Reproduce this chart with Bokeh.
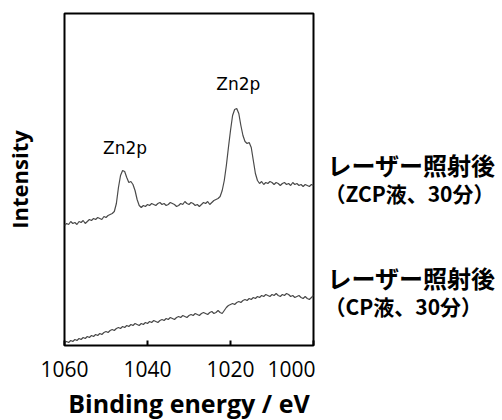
import numpy as np
from bokeh.plotting import figure
from bokeh.models import Range1d, FixedTicker, ColumnDataSource
from bokeh.layouts import row
from bokeh.core.properties import value
from bokeh.embed import file_html
from bokeh.resources import INLINE

# Binding energy grid (eV), 0.5 eV steps from 1060 down to 1000
energy = np.arange(1060.0, 999.9, -0.5)

# Upper trace: after laser irradiation (ZCP solution, 30 min)
zcp = [120, 122, 121, 124, 122, 123, 121, 124, 123, 125,
       122, 124, 126, 125, 127, 126, 128, 127, 126, 129,
       128, 130, 131, 132, 134, 142, 158, 170, 175, 174,
       168, 163, 164, 161, 155, 146, 140, 138, 140, 139,
       141, 140, 142, 141, 140, 142, 143, 141, 142, 140,
       141, 143, 142, 141, 139, 140, 142, 141, 144, 142,
       141, 143, 142, 140, 141, 139, 141, 143, 142, 144,
       141, 143, 145, 146, 147, 149, 155, 165, 180, 198,
       215, 230, 236, 237, 232, 220, 210, 204, 202, 203,
       198, 185, 172, 165, 162, 164, 161, 163, 162, 164,
       163, 161, 163, 162, 160, 162, 163, 161, 162, 160,
       163, 161, 162, 160, 161, 159, 161, 160, 159, 161,
       160]

# Lower trace: after laser irradiation (CP solution, 30 min)
cp = [3, 4, 3, 5, 4, 6, 5, 7, 6, 8,
      7, 9, 8, 10, 9, 11, 10, 12, 11, 13,
      14, 13, 15, 16, 15, 17, 18, 17, 19, 18,
      20, 19, 21, 20, 22, 21, 20, 22, 21, 23,
      22, 24, 23, 25, 24, 23, 25, 26, 25, 27,
      26, 28, 27, 26, 28, 29, 28, 30, 29, 28,
      30, 31, 30, 32, 31, 30, 32, 33, 32, 31,
      33, 34, 32, 33, 35, 33, 32, 35, 38, 40,
      41, 42, 41, 43, 44, 43, 45, 46, 45, 47,
      46, 48, 47, 49, 48, 50, 49, 51, 50, 49,
      51, 50, 52, 50, 49, 51, 50, 52, 51, 49,
      50, 48, 49, 50, 48, 47, 49, 47, 46, 48,
      50]

x_ticks = [1060, 1040, 1020, 1000]
peak_labels = ["Zn2p", "Zn2p"]
peak_pos_x = [1045.4, 1018.1]
peak_pos_y = [198, 262]
title_lines = ["レーザー照射後", "レーザー照射後"]
title_y = [181, 68]
sub_lines = ["（ZCP液、30分）", "（CP液、30分）"]
sub_y = [153, 40]

assert len(zcp) == len(energy) and len(cp) == len(energy)

H = 427
p = figure(width=315, height=H, output_backend="svg", toolbar_location=None,
           x_range=Range1d(1060, 1000), y_range=Range1d(0, 332),
           min_border_left=63, min_border_right=2, min_border_top=13,
           min_border_bottom=H - 13 - 332)
p.background_fill_color = "white"
p.border_fill_color = "white"
p.outline_line_color = "black"
p.outline_line_width = 2
p.xgrid.visible = False
p.ygrid.visible = False

line_color = "#4a4a4a"
p.line(energy, zcp, line_color=line_color, line_width=1.2)
p.line(energy, cp, line_color=line_color, line_width=1.2)

ax = p.xaxis[0]
ax.ticker = FixedTicker(ticks=x_ticks)
ax.axis_line_color = None
ax.major_tick_in = 5
ax.major_tick_out = 0
ax.major_tick_line_color = "black"
ax.major_tick_line_width = 2
ax.minor_tick_line_color = None
ax.major_label_text_font = "Open Sans"
ax.major_label_text_font_size = "21px"
ax.major_label_text_color = "black"
ax.major_label_standoff = 15
ax.axis_label = "Binding energy / eV"
ax.axis_label_text_font = "Open Sans"
ax.axis_label_text_font_size = "25px"
ax.axis_label_text_font_style = "bold"
ax.axis_label_text_color = "black"
ax.axis_label_standoff = 6

ay = p.yaxis[0]
ay.ticker = FixedTicker(ticks=[])
ay.axis_line_color = None
ay.major_tick_line_color = None
ay.minor_tick_line_color = None
ay.major_label_text_font_size = "0px"
ay.major_label_standoff = 0
ay.axis_label = "Intensity"
ay.axis_label_text_font = "Open Sans"
ay.axis_label_text_font_size = "22px"
ay.axis_label_text_font_style = "bold"
ay.axis_label_text_color = "black"
ay.axis_label_standoff = 31

p.text(x=peak_pos_x, y=peak_pos_y, text=peak_labels, text_align="center",
       text_baseline="middle", text_font=value("DejaVu Sans"),
       text_font_size=value("17px"), text_color="black")

# Side panel for the series labels (same vertical scale as the main frame)
p2 = figure(width=187, height=H, output_backend="svg", toolbar_location=None,
            x_range=Range1d(0, 187), y_range=Range1d(0, 332),
            min_border_left=0, min_border_right=0, min_border_top=13,
            min_border_bottom=H - 13 - 332)
p2.xaxis.visible = False
p2.yaxis.visible = False
p2.xgrid.visible = False
p2.ygrid.visible = False
p2.outline_line_color = None
p2.background_fill_color = "white"
p2.border_fill_color = "white"
src1 = ColumnDataSource(dict(x=[12] * len(title_lines), y=title_y, text=title_lines))
p2.text(x="x", y="y", text="text", source=src1, text_align="left", text_baseline="middle",
        text_font=value("Noto Sans CJK JP"), text_font_size=value("24px"),
        text_font_style="bold", text_color="black")
src2 = ColumnDataSource(dict(x=[9] * len(sub_lines), y=sub_y, text=sub_lines))
p2.text(x="x", y="y", text="text", source=src2, text_align="left", text_baseline="middle",
        text_font=value("Noto Sans CJK JP"), text_font_size=value("21px"),
        text_font_style="bold", text_color="black")

layout = row(p, p2, spacing=0)
open("out.html", "w").write(file_html(layout, INLINE))
